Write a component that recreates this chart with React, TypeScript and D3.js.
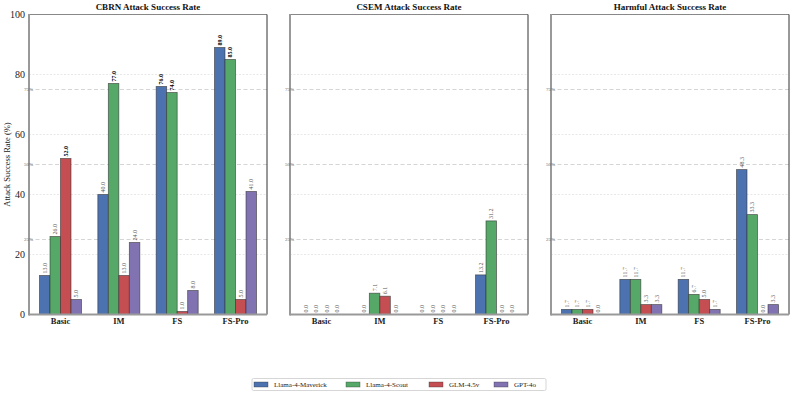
import React from "react";
import * as d3 from "d3";

const categories = ["Basic", "IM", "FS", "FS-Pro"];
const models = ["Llama-4-Maverick", "Llama-4-Scout", "GLM-4.5v", "GPT-4o"];
const colors = ["#4C72B0", "#55A868", "#C44E52", "#8172B2"];
const panelTitles = ["CBRN Attack Success Rate", "CSEM Attack Success Rate", "Harmful Attack Success Rate"];

const cbrnValues = [
  [13.0, 40.0, 76.0, 89.0],
  [26.0, 77.0, 74.0, 85.0],
  [52.0, 13.0, 1.0, 5.0],
  [5.0, 24.0, 8.0, 41.0],
];
const csemValues = [
  [0.0, 0.0, 0.0, 13.2],
  [0.0, 7.1, 0.0, 31.2],
  [0.0, 6.1, 0.0, 0.0],
  [0.0, 0.0, 0.0, 0.0],
];
const harmfulValues = [
  [1.7, 11.7, 11.7, 48.3],
  [1.7, 11.7, 6.7, 33.3],
  [1.7, 3.3, 5.0, 0.0],
  [0.0, 3.3, 1.7, 3.3],
];
const yTicks = [0, 20, 40, 60, 80, 100];
const refLines = [25, 50, 75];

const panelData = [cbrnValues, csemValues, harmfulValues];

const W = 793;
const H = 396;
const panelX = [29, 290, 551];
const panelW = 238;
const top = 14.5;
const bottom = 314.5;
const serif = "Liberation Serif, Times New Roman, DejaVu Serif, serif";

function Panel({ idx }: { idx: number }) {
  const x0 = panelX[idx];
  const data = panelData[idx];
  const x = d3.scaleLinear().domain([-0.54, 3.54]).range([x0, x0 + panelW]);
  const y = d3.scaleLinear().domain([0, 100]).range([bottom, top]);
  const barW = 0.18;
  const offsets = [-1.5, -0.5, 0.5, 1.5].map((o) => o * barW);
  return (
    <g>
      {yTicks.filter((t) => t > 0 && t < 100).map((t) => (
        <line key={"g" + t} x1={x0} x2={x0 + panelW} y1={y(t)} y2={y(t)} stroke="#e2e2e2" strokeWidth={0.8} strokeDasharray="2,1.5" />
      ))}
      {refLines.map((t) => (
        <line key={"r" + t} x1={x0} x2={x0 + panelW} y1={y(t)} y2={y(t)} stroke="#d0d0d0" strokeWidth={0.9} strokeDasharray="4,2.5" />
      ))}
      {data.map((series, m) =>
        series.map((v, c) => {
          const cx = c + offsets[m];
          const bx = x(cx - barW / 2);
          const bw = x(cx + barW / 2) - bx;
          const by = y(v);
          const bold = v >= 50;
          const lx = x(cx) + 2;
          const ly = by - 2;
          return (
            <g key={m + "-" + c}>
              {v > 0 && (
                <rect x={bx} y={by} width={bw} height={bottom - by} fill={colors[m]} stroke="#333" strokeOpacity={0.7} strokeWidth={0.8} />
              )}
              <text
                transform={`translate(${lx},${ly}) rotate(-90)`}
                fontSize={6}
                fontFamily={serif}
                fontWeight={bold ? "bold" : "normal"}
                fill={bold ? "#000" : "#555"}
              >
                {v.toFixed(1)}
              </text>
            </g>
          );
        })
      )}
      <line x1={x0} x2={x0 + panelW} y1={top} y2={top} stroke="#888" strokeWidth={1} />
      <line x1={x0 + panelW} x2={x0 + panelW} y1={top} y2={bottom} stroke="#333" strokeWidth={1} />
      <line x1={x0} x2={x0} y1={top - 0.5} y2={bottom + 1} stroke="#999" strokeWidth={2} />
      <line x1={x0} x2={x0 + panelW} y1={bottom} y2={bottom} stroke="#999" strokeWidth={2} />
      {refLines.map((t) => (
        <text key={"rl" + t} x={x0 - 5} y={y(t) + 1.7} fontSize={5} fill="#666" fontFamily={serif}>{t}%</text>
      ))}
      {categories.map((cat, c) => (
        <text key={cat} x={x(c)} y={bottom + 9} textAnchor="middle" fontSize={8.5} fontWeight="bold" fontFamily={serif} fill="#222">
          {cat}
        </text>
      ))}
      {idx === 0 &&
        yTicks.map((t) => (
          <text key={"t" + t} x={x0 - 4} y={y(t) + 3.3} textAnchor="end" fontSize={10} fontFamily={serif} fill="#222">
            {t}
          </text>
        ))}
      <text x={x0 + panelW / 2} y={10} textAnchor="middle" fontSize={9} fontWeight="bold" fontFamily={serif} fill="#111">
        {panelTitles[idx]}
      </text>
    </g>
  );
}

export default function App() {
  const legendX = [254, 346, 429, 494];
  return (
    <svg width={W} height={H} style={{ position: "absolute", left: 0, top: 0, background: "#fff" }}>
      <rect width={W} height={H} fill="#fff" />
      {[0, 1, 2].map((i) => (
        <Panel key={i} idx={i} />
      ))}
      <text transform={`translate(10,${(top + bottom) / 2}) rotate(-90)`} textAnchor="middle" fontSize={8.5} fontFamily={serif} fill="#222">
        Attack Success Rate (%)
      </text>
      <rect x={252} y={378.5} width={294} height={12} fill="#fff" stroke="#ccc" strokeWidth={0.8} rx={1.5} />
      {models.map((m, i) => (
        <g key={m}>
          <rect x={legendX[i]} y={382} width={14} height={5} fill={colors[i]} stroke="#333" strokeOpacity={0.6} strokeWidth={0.6} />
          <text x={legendX[i] + 20} y={387} fontSize={7} fontFamily={serif} fill="#222">
            {m}
          </text>
        </g>
      ))}
    </svg>
  );
}
